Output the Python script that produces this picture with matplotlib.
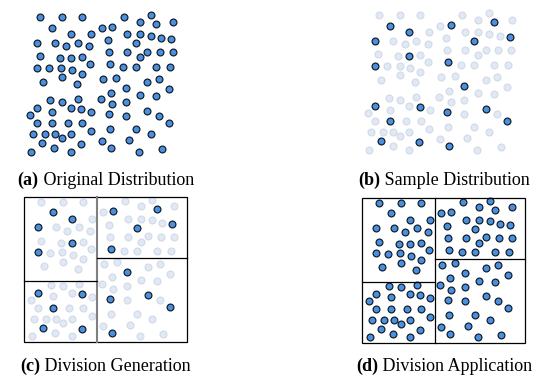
import matplotlib
matplotlib.use("Agg")
import matplotlib.pyplot as plt
from matplotlib.patches import Rectangle

# ---- data: point positions (local panel units, y downward) ----
pts_x = [40.3, 62, 82, 52, 71, 91, 37, 54.7, 66.3, 77.7, 89.3, 39.7, 59.7, 71, 82, 89.7,
         37, 48.7, 61.3, 72, 82, 62, 42.7, 77, 102, 112.3, 123.7, 139.7, 150.7, 156,
         173.3, 108, 127, 139.7, 150.7, 161.3, 171.3, 135.7, 109, 127, 139.7, 147.3,
         160, 173, 109.7, 123, 135.7, 156, 170, 103, 116.3, 147.3, 159, 50.3, 62, 77.7,
         101, 37, 29.7, 52, 70.7, 81.3, 91.3, 37, 52, 68, 82.3, 32.7, 44.7, 54.7, 62,
         70.7, 90.7, 42.3, 54.3, 80.7, 31, 70.7, 110.7, 125.7, 139.7, 155.7, 169, 112.3,
         125.7, 109, 125.7, 147.3, 159, 169, 109.7, 135.7, 150.7, 102, 129, 110.7, 139,
         162.3]
pts_y = [17.3, 17.3, 17.3, 27.7, 34.3, 34.3, 42.7, 42.7, 46, 42.7, 46, 56, 58.3, 58.3,
         57.3, 64.3, 67.7, 68.3, 67.7, 70, 74.3, 77.3, 81.7, 84, 27.7, 26.7, 16.7, 21.7,
         15, 24.3, 21.7, 40, 34.3, 34.3, 35.7, 38.3, 39, 43.3, 52.3, 52.3, 57.3, 51.7,
         52.3, 52.3, 64.3, 66.7, 66.7, 66.7, 66.7, 79.3, 77.7, 82.3, 79.3, 100, 101.7, 99,
         99, 108.3, 115, 111.7, 108.3, 109, 112.3, 123.3, 123.3, 123.3, 123.3, 134, 134,
         134, 138.3, 134, 131, 143.3, 148.3, 144, 151.7, 151.7, 92.7, 87.7, 95, 96, 89,
         104.3, 101.7, 114, 115.7, 110.7, 115.7, 122.7, 129.3, 129.3, 134.3, 141, 140,
         148.3, 151.7, 149]
sampled_idx = [3, 4, 6, 13, 16, 25, 29, 36, 37, 44, 57, 61, 64, 73, 75, 79, 85, 87, 89, 95]

# division (local units)
region_x = (23.5, 186.5)
region_y = (12.0, 157.0)
split_x = 95.8
split_y_left = 96.0
split_y_right = 73.5

labels = [("(a)", " Original Distribution"),
          ("(b)", " Sample Distribution"),
          ("(c)", " Division Generation"),
          ("(d)", " Division Application")]

# ---- layout ----
W, H = 549, 379
fig = plt.figure(figsize=(W / 100, H / 100), dpi=100)
LW, LH = 200, 175
offsets = [(0, 0), (338.3, -2.0), (1.0, 184.7), (338.8, 185.5)]

DARK_FC = "#4a90e2"
DARK_EC = "#15202c"
LIGHT_FC = "#e2e9f4"
LIGHT_EC = "#d2dcea"
S = 24

axes = []
for (ox, oy) in offsets:
    ax = fig.add_axes([ox / W, 1 - (oy + LH) / H, LW / W, LH / H])
    ax.set_xlim(0, LW)
    ax.set_ylim(LH, 0)
    ax.axis("off")
    ax.patch.set_alpha(0)
    axes.append(ax)

sx = [pts_x[i] for i in sampled_idx]
sy = [pts_y[i] for i in sampled_idx]
rest = [i for i in range(len(pts_x)) if i not in sampled_idx]
rx = [pts_x[i] for i in rest]
ry = [pts_y[i] for i in rest]

# (a) full distribution
axes[0].scatter(pts_x, pts_y, s=S, c=DARK_FC, edgecolors=DARK_EC, linewidths=0.9, zorder=3)
# (b), (c) sample
for ax in (axes[1], axes[2]):
    ax.scatter(rx, ry, s=S, c=LIGHT_FC, edgecolors=LIGHT_EC, linewidths=0.9, zorder=2)
    ax.scatter(sx, sy, s=S, c=DARK_FC, edgecolors=DARK_EC, linewidths=0.9, zorder=3)
# (d) full distribution with division
axes[3].scatter(pts_x, pts_y, s=S, c=DARK_FC, edgecolors=DARK_EC, linewidths=0.9, zorder=3)

for k, ax in enumerate((axes[2], axes[3])):
    ax.add_patch(Rectangle((region_x[0], region_y[0]), region_x[1] - region_x[0],
                           region_y[1] - region_y[0], fill=False, ec="black", lw=0.9, zorder=4))
    vcol = "#808080" if k == 0 else "black"
    vlw = 1.5 if k == 0 else 0.9
    ax.plot([split_x, split_x], [region_y[0], region_y[1]], color=vcol, lw=vlw, zorder=4)
    ax.plot([region_x[0], split_x], [split_y_left, split_y_left], color="black", lw=0.9, zorder=4)
    ax.plot([split_x, region_x[1]], [split_y_right, split_y_right], color="black", lw=0.9, zorder=4)

# ---- captions ----
FS = 13
fam = ["Liberation Serif", "DejaVu Serif"]
centers_x = [105.7, 444, 105.7, 444]
baselines = [185.0, 185.0, 371.0, 371.0]
fig.canvas.draw()
r = fig.canvas.get_renderer()
for (b, rtxt), cx, by in zip(labels, centers_x, baselines):
    t1 = fig.text(0, 1 - by / H, b, fontsize=FS, fontweight="bold", family=fam, va="baseline")
    t2 = fig.text(0, 1 - by / H, rtxt, fontsize=FS, family=fam, va="baseline")
    w1 = t1.get_window_extent(r).width
    w2 = t2.get_window_extent(r).width
    left = cx - (w1 + w2) / 2
    t1.set_x(left / W)
    t2.set_x((left + w1) / W)

fig.savefig("out.png", dpi=100)
